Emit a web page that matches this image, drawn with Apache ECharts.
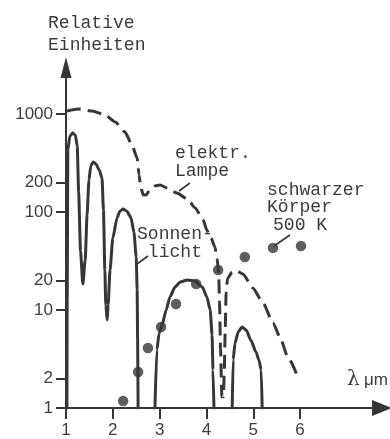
<!DOCTYPE html>
<html>
<head>
<meta charset="utf-8">
<script src="https://cdn.jsdelivr.net/npm/echarts@6/dist/echarts.min.js"></script>
<style>
  html, body { margin: 0; padding: 0; background: #fff; }
  #chart { width: 390px; height: 439px; }
</style>
</head>
<body>
<div id="chart"></div>
<script>
// Axis ticks (wavelength in µm, intensity in relative units on a log scale)
const xTickValues = [1, 2, 3, 4, 5, 6];
const yTickValues = [1, 2, 10, 20, 100, 200, 1000];

// Sunlight spectrum: three transmission windows, each [λ µm, relative intensity]
const sunBandA = [
  [1.02, 1], [1.025, 12.6], [1.04, 429], [1.08, 590], [1.14, 640], [1.20, 610],
  [1.24, 470], [1.27, 160], [1.31, 40], [1.36, 18.4], [1.41, 32.4], [1.45, 93],
  [1.49, 212], [1.53, 295], [1.58, 324], [1.64, 309], [1.71, 268], [1.77, 222],
  [1.80, 105], [1.83, 25.6], [1.85, 11.2], [1.88, 7.9], [1.90, 11.2], [1.94, 25.6],
  [2.00, 54], [2.09, 87], [2.15, 102], [2.22, 107], [2.30, 102], [2.39, 87],
  [2.45, 62.5], [2.50, 34.7], [2.52, 16], [2.53, 4.9], [2.54, 1]
];
const sunBandB = [
  [2.90, 1], [2.94, 3.9], [2.99, 5.8], [3.05, 7.0], [3.14, 10], [3.22, 13.6],
  [3.33, 17.2], [3.44, 19.3], [3.59, 20.2], [3.76, 19.8], [3.91, 17.2], [4.01, 13.6],
  [4.08, 10], [4.12, 5.6], [4.14, 2.44], [4.16, 1]
];
const sunBandC = [
  [4.55, 1], [4.57, 3.1], [4.61, 4.6], [4.68, 6.0], [4.76, 6.7], [4.85, 6.25],
  [4.95, 4.9], [5.06, 3.7], [5.12, 3.1], [5.17, 2.44], [5.19, 1]
];

// Electric lamp spectrum
const lampCurve = [
  [1.02, 1073], [1.26, 1125], [1.56, 1073], [1.83, 977], [2.05, 829], [2.26, 655],
  [2.41, 483], [2.52, 356], [2.56, 239], [2.60, 176], [2.65, 149], [2.71, 149],
  [2.79, 168], [2.90, 184], [3.01, 188], [3.16, 176], [3.37, 156], [3.59, 136],
  [3.76, 110], [3.93, 83], [4.01, 65], [4.10, 54], [4.18, 44], [4.23, 33],
  [4.26, 24], [4.28, 12], [4.30, 4], [4.33, 1.3], [4.36, 1.3], [4.38, 2.2],
  [4.40, 6], [4.42, 15], [4.45, 21], [4.55, 24.4], [4.65, 25], [4.78, 23.3],
  [4.99, 16.8], [5.21, 11.8], [5.42, 7.4], [5.57, 5.3], [5.74, 3.3], [5.96, 2.02]
];

// Black body at 500 K
const blackBody500K = [
  [2.22, 1.18], [2.54, 2.33], [2.75, 4.1], [3.03, 6.7], [3.35, 11.5],
  [3.78, 18.4], [4.25, 25.6], [4.82, 34.7], [5.42, 43], [6.02, 45]
];

const ink = '#363636';
const textInk = '#3c3c3c';
const monoFont = '"Liberation Mono", "DejaVu Sans Mono", monospace';
const sansFont = '"Liberation Sans", Arial, sans-serif';

function sunSeries(data) {
  return {
    type: 'line', data: data, symbol: 'none', showSymbol: false,
    smooth: 0.2, smoothMonotone: 'x',
    lineStyle: { color: ink, width: 3, cap: 'round', join: 'round' },
    z: 3, silent: true
  };
}

// Typewriter-style annotation, slightly condensed
function label(text, x, y, lineHeight) {
  return {
    type: 'text', x: x, y: y, scaleX: 0.95, silent: true,
    style: {
      text: text, fill: textInk, fontSize: 19, fontFamily: monoFont,
      lineHeight: lineHeight, align: 'left', verticalAlign: 'top'
    }
  };
}

function leader(x1, y1, x2, y2) {
  return {
    type: 'line', silent: true,
    shape: { x1: x1, y1: y1, x2: x2, y2: y2 },
    style: { stroke: ink, lineWidth: 1.6 }
  };
}

const chart = echarts.init(document.getElementById('chart'), null, { renderer: 'canvas' });
chart.setOption({
  animation: false,
  backgroundColor: '#ffffff',
  grid: { left: 66, right: 8, top: 67.5, bottom: 31, outerBoundsMode: 'none' },
  xAxis: {
    type: 'value', min: 1, max: 7.75,
    axisLine: {
      show: true, symbol: ['none', 'triangle'], symbolSize: [16, 20],
      lineStyle: { color: ink, width: 2 }
    },
    axisTick: { show: true, length: 11, customValues: xTickValues, lineStyle: { color: ink, width: 2 } },
    axisLabel: {
      customValues: xTickValues, margin: 14, color: textInk, fontSize: 17, fontFamily: sansFont,
      formatter: function (v) { return String(v); }
    },
    splitLine: { show: false }
  },
  yAxis: {
    type: 'log', logBase: 10, min: 1, max: 2980,
    axisLine: {
      show: true, symbol: ['none', 'triangle'], symbolSize: [11, 21],
      lineStyle: { color: ink, width: 2 }
    },
    axisTick: { show: true, length: 10, customValues: yTickValues, lineStyle: { color: ink, width: 2 } },
    axisLabel: {
      customValues: yTickValues, margin: 13, color: textInk, fontSize: 17, fontFamily: sansFont,
      formatter: function (v) { return String(Math.round(v)); }
    },
    splitLine: { show: false }
  },
  series: [
    sunSeries(sunBandA),
    sunSeries(sunBandB),
    sunSeries(sunBandC),
    {
      type: 'line', data: lampCurve, symbol: 'none', showSymbol: false,
      smooth: 0.2, smoothMonotone: 'x',
      lineStyle: { color: ink, width: 3, type: [14, 7], cap: 'butt' },
      z: 3, silent: true
    },
    {
      type: 'scatter', data: blackBody500K, symbol: 'circle', symbolSize: 10.5,
      itemStyle: { color: ink }, z: 4, silent: true
    }
  ],
  graphic: [
    label('Relative\nEinheiten', 48, 12, 22),
    label('elektr.\nLampe', 175, 144, 18),
    label('schwarzer\nKörper', 267, 181.5, 17),
    label('500 K', 273, 216, 18),
    label('Sonnen-\n licht', 137, 225, 18),
    leader(190, 183, 179, 191),
    leader(148, 256, 137, 264),
    leader(290, 235, 274, 246),
    {
      type: 'text', x: 347, y: 370, silent: true,
      style: { text: 'λ', fill: textInk, fontSize: 20, fontFamily: '"DejaVu Serif", serif', align: 'left', verticalAlign: 'top' }
    },
    {
      type: 'text', x: 364, y: 372, silent: true,
      style: { text: 'μm', fill: textInk, fontSize: 17, fontFamily: sansFont, align: 'left', verticalAlign: 'top' }
    }
  ]
});
</script>
</body>
</html>
